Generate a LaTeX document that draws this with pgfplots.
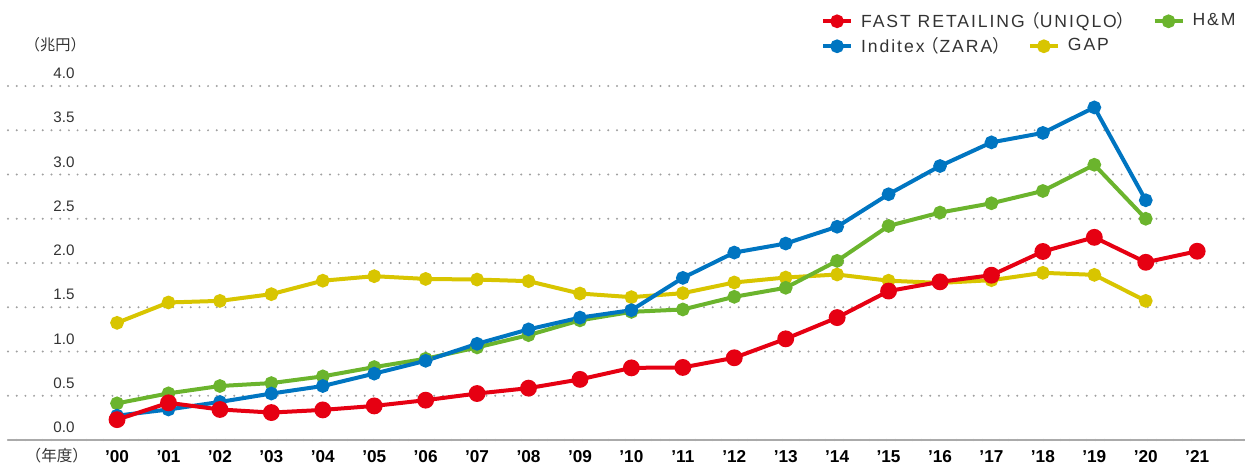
\documentclass[border=0pt]{standalone}
\usepackage{fontspec}
\setmainfont{Liberation Sans}
\newfontfamily\jp{Noto Sans CJK JP}
\newfontfamily\legfont[LetterSpace=11]{Liberation Sans}
\usepackage{pgfplots}
\pgfplotsset{compat=1.18}
\definecolor{cRed}{HTML}{E60012}
\definecolor{cBlue}{HTML}{0075C1}
\definecolor{cGreen}{HTML}{6BB42D}
\definecolor{cGold}{HTML}{D8C500}
\definecolor{cGrid}{HTML}{A0A0A0}
\definecolor{cAxis}{HTML}{AAAAAA}
\definecolor{cText}{HTML}{333333}
\pgfplotsset{
  mylegend/.style={
    legend image code/.code={
      \draw[##1, mark=none] (0pt,0pt) -- (14pt,0pt);
      \draw[##1] plot coordinates {(7pt,0pt)};
    },
    legend style={draw=none, fill=none, inner sep=0pt, outer sep=0pt,
      font=\legfont\fontsize{8.8pt}{9pt}\selectfont, text=cText,
      nodes={inner sep=0pt, anchor=west},
      row sep=3.5pt},
    legend cell align=left,
  }
}
\newcommand{\lp}{{\jp\hspace{-0.15em}（}}
\newcommand{\rp}{{\jp ）}}
\begin{document}
\begin{tikzpicture}
\path[use as bounding box] (0,0) rectangle (622.5pt,233pt);
\begin{axis}[
  at={(4pt,13pt)}, anchor=south west,
  scale only axis, width=618.5pt, height=177pt,
  xmin=-2.12, xmax=21.93, ymin=0, ymax=4,
  axis x line=bottom, axis y line=left,
  axis line style={-},
  x axis line style={draw=cAxis, line width=0.8pt},
  y axis line style={draw=none},
  major tick length=0pt,
  xtick={0,...,21},
  xticklabels={’00,’01,’02,’03,’04,’05,’06,’07,’08,’09,’10,’11,’12,’13,’14,’15,’16,’17,’18,’19,’20,’21},
  xticklabel style={font=\bfseries\fontsize{8.6pt}{9pt}\selectfont, text=black, anchor=north, inner sep=0pt, yshift=-5pt},
  ytick={0,0.5,...,4},
  yticklabel style={font=\fontsize{7.6pt}{9pt}\selectfont, text=cText, anchor=base, inner sep=0pt, xshift=28pt, yshift=3.7pt,
    /pgf/number format/.cd, fixed, fixed zerofill, precision=1, assume math mode=true},
  ymajorgrids,
  major grid style={draw=cGrid, line width=1.1pt, line cap=round, dash pattern=on 0pt off 4.35pt},
  clip=false,
  mylegend,
  legend columns=2,
  legend style={at={(0.6573,1.2083)}, anchor=north west,
    /tikz/every odd column/.style={column sep=4pt},
    /tikz/every even column/.style={column sep=9pt}},
]
\addlegendimage{cRed, line width=2pt, mark=*, mark size=2.4pt}
\addlegendentry{FAST RETAILING\lp UNIQLO\rp}
\addlegendimage{cGreen, line width=2pt, mark=*, mark size=2.4pt}
\addlegendentry{H\&M}

\addplot[cGold, line width=2pt, mark=*, mark size=2.4pt, forget plot] coordinates {
(0,1.324)(1,1.554)(2,1.572)(3,1.648)(4,1.80)(5,1.851)(6,1.82)(7,1.813)(8,1.795)(9,1.655)(10,1.614)
(11,1.659)(12,1.78)(13,1.836)(14,1.87)(15,1.80)(16,1.775)(17,1.806)(18,1.889)(19,1.866)(20,1.572)};
\addplot[cGreen, line width=2pt, mark=*, mark size=2.4pt, forget plot] coordinates {
(0,0.414)(1,0.527)(2,0.61)(3,0.643)(4,0.719)(5,0.824)(6,0.918)(7,1.046)(8,1.185)(9,1.352)(10,1.448)
(11,1.475)(12,1.618)(13,1.72)(14,2.024)(15,2.419)(16,2.57)(17,2.675)(18,2.814)(19,3.11)(20,2.50)};
\addplot[cBlue, line width=2pt, mark=*, mark size=2.4pt, forget plot] coordinates {
(0,0.275)(1,0.345)(2,0.43)(3,0.525)(4,0.61)(5,0.75)(6,0.895)(7,1.087)(8,1.25)(9,1.383)(10,1.467)
(11,1.832)(12,2.118)(13,2.22)(14,2.41)(15,2.777)(16,3.096)(17,3.363)(18,3.47)(19,3.758)(20,2.709)};
\addplot[cRed, line width=2pt, mark=*, mark size=3.2pt, forget plot] coordinates {
(0,0.23)(1,0.42)(2,0.345)(3,0.31)(4,0.34)(5,0.385)(6,0.45)(7,0.525)(8,0.586)(9,0.685)(10,0.815)
(11,0.82)(12,0.929)(13,1.143)(14,1.383)(15,1.683)(16,1.787)(17,1.862)(18,2.13)(19,2.29)(20,2.008)(21,2.133)};

\node[font=\jp\fontsize{7.8pt}{9pt}\selectfont, text=cText, inner sep=0pt] at (axis cs:-1.17,0) [yshift=-8pt] {（年度）};
\node[font=\jp\fontsize{7.6pt}{9pt}\selectfont, text=cText, inner sep=0pt] at (axis cs:-1.2,4) [yshift=20.5pt] {（兆円）};
\end{axis}
\begin{axis}[
  at={(4pt,13pt)}, anchor=south west,
  scale only axis, width=618.5pt, height=177pt,
  xmin=0, xmax=1, ymin=0, ymax=1,
  hide axis,
  mylegend,
  legend columns=2,
  legend style={at={(0.6573,1.1377)}, anchor=north west,
    /tikz/every odd column/.style={column sep=4pt},
    /tikz/every even column/.style={column sep=9pt}},
]
\addlegendimage{cBlue, line width=2pt, mark=*, mark size=2.4pt}
\addlegendentry{Inditex\lp ZARA\rp}
\addlegendimage{cGold, line width=2pt, mark=*, mark size=2.4pt}
\addlegendentry{GAP}
\end{axis}
\end{tikzpicture}
\end{document}
